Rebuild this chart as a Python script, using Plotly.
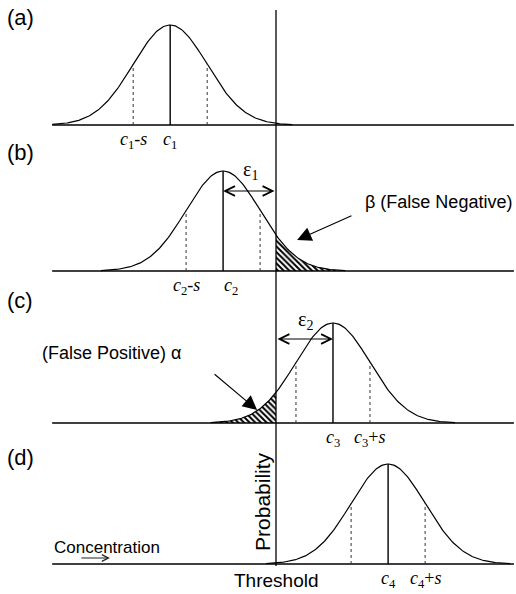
import numpy as np
import plotly.graph_objects as go

# ---- data (concentration units: threshold = 0, spread s = 1) ----
panel_tags = ["(a)", "(b)", "(c)", "(d)"]
centers = [-2.86, -1.43, 1.54, 3.03]          # c1..c4
spread = 1.0                                  # s
threshold = 0.0
peak = 1.0                                    # relative probability at the centre
sub_ids = ["1", "2", "3", "4"]
label_sides = [-1, -1, 1, 1]                  # c-s labels for (a),(b); c+s for (c),(d)
eps_levels = {1: 0.80, 2: 0.84}               # heights of the epsilon arrows (panel units)
x_span = [-6.05, 6.43]                        # concentration axis extent

# ---- layout geometry ----
W, H = 516, 594
baselines_px = [125, 271, 423, 564]
xr = [-276 / 37, 240 / 37]
FONT = "Arial, Liberation Sans, sans-serif"
SERIF = "Times New Roman, Liberation Serif, serif"

fig = go.Figure()
axes = ["y", "y2", "y3", "y4"]
for i, b in enumerate(baselines_px):
    key = "yaxis" if i == 0 else f"yaxis{i+1}"
    lo = max(0.0, 1 - (b + 30) / H)
    hi = 1 - (b - 120) / H
    lo_val = -0.3 if lo > 0 else -(H - b) / 100
    fig.layout[key] = dict(domain=[lo, hi], range=[lo_val, 1.2],
                           visible=False, fixedrange=True)
fig.layout["xaxis"] = dict(range=xr, visible=False, domain=[0, 1], fixedrange=True)

def gauss(x, c):
    return peak * np.exp(-0.5 * ((x - c) / spread) ** 2)

ann = []
for i, c in enumerate(centers):
    ya = axes[i]
    # hatched tail areas (b) and (c)
    if i == 1:
        xs = np.linspace(threshold, c + 3.3 * spread, 80)
        px = np.concatenate([[threshold], xs, [xs[-1]]])
        py = np.concatenate([[0], gauss(xs, c), [0]])
    elif i == 2:
        xs = np.linspace(c - 3.3 * spread, threshold, 80)
        px = np.concatenate([[xs[0]], xs, [threshold]])
        py = np.concatenate([[0], gauss(xs, c), [0]])
    else:
        px = py = None
    if px is not None:
        fig.add_trace(go.Scatter(x=px, y=py, yaxis=ya, mode="lines", fill="toself",
                                 fillcolor="white",
                                 fillpattern=dict(shape="\\", fgcolor="black", bgcolor="white",
                                                  fgopacity=1, size=4, solidity=0.5),
                                 line=dict(width=0), hoverinfo="skip", showlegend=False))
    # baseline
    fig.add_trace(go.Scatter(x=x_span, y=[0, 0], yaxis=ya, mode="lines",
                             line=dict(color="black", width=1.3), showlegend=False, hoverinfo="skip"))
    # curve
    xs = np.linspace(max(c - 3.3 * spread, x_span[0]), min(c + 3.3 * spread, x_span[1]), 200)
    fig.add_trace(go.Scatter(x=xs, y=gauss(xs, c), yaxis=ya, mode="lines",
                             line=dict(color="black", width=1.2), showlegend=False, hoverinfo="skip"))
    # centre line
    fig.add_trace(go.Scatter(x=[c, c], y=[0, peak], yaxis=ya, mode="lines",
                             line=dict(color="black", width=1.4), showlegend=False, hoverinfo="skip"))
    # dotted lines at c +/- s
    for d in (-spread, spread):
        fig.add_trace(go.Scatter(x=[c + d, c + d], y=[0, gauss(c + d, c)], yaxis=ya, mode="lines",
                                 line=dict(color="#333", width=1, dash="dot"),
                                 showlegend=False, hoverinfo="skip"))
    # c labels
    n = sub_ids[i]
    lab_c = f"<i>c</i><sub>{n}</sub>"
    lab_s = f"<i>c</i><sub>{n}</sub>{'-' if label_sides[i] < 0 else '+'}<i>s</i>"
    xs_c = 8 if i == 1 else 0
    ann.append(dict(x=c, y=-0.15, xref="x", yref=ya, text=lab_c, showarrow=False,
                    xshift=xs_c, font=dict(family=SERIF, size=18, color="black")))
    ann.append(dict(x=c + label_sides[i] * spread, y=-0.15, xref="x", yref=ya, text=lab_s,
                    showarrow=False, font=dict(family=SERIF, size=18, color="black")))
    # panel tag
    ann.append(dict(x=0.01, y=1.0 - baselines_px[i] / H, xref="paper", yref="paper",
                    text=panel_tags[i], showarrow=False, xanchor="left", yanchor="middle",
                    yshift=[107, 119, 123, 107][i],
                    font=dict(family=FONT, size=22, color="black")))

# epsilon double arrows
for k, (idx) in zip((1, 2), (1, 2)):
    c = centers[idx]
    ann.append(dict(x=c, y=eps_levels[k], ax=threshold, ay=eps_levels[k],
                    xref="x", yref=axes[idx], axref="x", ayref=axes[idx],
                    text="", showarrow=True, arrowside="end+start", arrowhead=5,
                    arrowsize=1.6, arrowwidth=1.2, arrowcolor="black", standoff=0, startstandoff=0))
ann.append(dict(x=-0.70, y=1.01, xref="x", yref="y2", text="ε<sub>1</sub>", showarrow=False,
                font=dict(family=SERIF, size=20, color="black")))
ann.append(dict(x=0.80, y=1.03, xref="x", yref="y3", text="ε<sub>2</sub>", showarrow=False,
                font=dict(family=SERIF, size=20, color="black")))

# beta / alpha pointers
ann.append(dict(x=0.57, y=0.31, ax=2.08, ay=0.56, xref="x", yref="y2", axref="x", ayref="y2",
                text="", showarrow=True, arrowhead=2, arrowsize=2.6, arrowwidth=1.1,
                arrowcolor="black"))
ann.append(dict(x=6.43, y=0.69, xref="x", yref="y2", text="β (False Negative)", showarrow=False,
                xanchor="right", font=dict(family=FONT, size=18, color="black")))
ann.append(dict(x=-0.51, y=0.13, ax=-1.70, ay=0.50, xref="x", yref="y3", axref="x", ayref="y3",
                text="", showarrow=True, arrowhead=2, arrowsize=2.6, arrowwidth=1.1,
                arrowcolor="black"))
ann.append(dict(x=-6.38, y=0.70, xref="x", yref="y3", text="(False Positive) α", showarrow=False,
                xanchor="left", font=dict(family=FONT, size=18, color="black")))

# axis words
ann.append(dict(x=-6.05, y=0.17, xref="x", yref="y4", text="Concentration", showarrow=False,
                xanchor="left", font=dict(family=FONT, size=17, color="black")))
ann.append(dict(x=-4.49, y=0.06, ax=-5.30, ay=0.06, xref="x", yref="y4", axref="x", ayref="y4",
                text="", showarrow=True, arrowhead=5, arrowsize=1.3, arrowwidth=1,
                arrowcolor="#222"))
ann.append(dict(x=-0.38, y=0.63, xref="x", yref="y4", text="Probability", showarrow=False,
                textangle=-90, font=dict(family=FONT, size=21, color="black")))
ann.append(dict(x=threshold, y=-0.16, xref="x", yref="y4", text="Threshold", showarrow=False,
                font=dict(family=FONT, size=19, color="black")))

# threshold line through all panels
shapes = [dict(type="line", xref="x", yref="paper", x0=threshold, x1=threshold,
               y0=1 - 566 / H, y1=1 - 10 / H, line=dict(color="black", width=1.3))]

fig.update_layout(width=W, height=H, margin=dict(l=0, r=0, t=0, b=0),
                  paper_bgcolor="white", plot_bgcolor="white", hovermode=False,
                  annotations=ann, shapes=shapes, showlegend=False)
fig.write_html("out.html", config={"displayModeBar": False, "staticPlot": True},
               post_script="document.body.style.margin='0px';")
